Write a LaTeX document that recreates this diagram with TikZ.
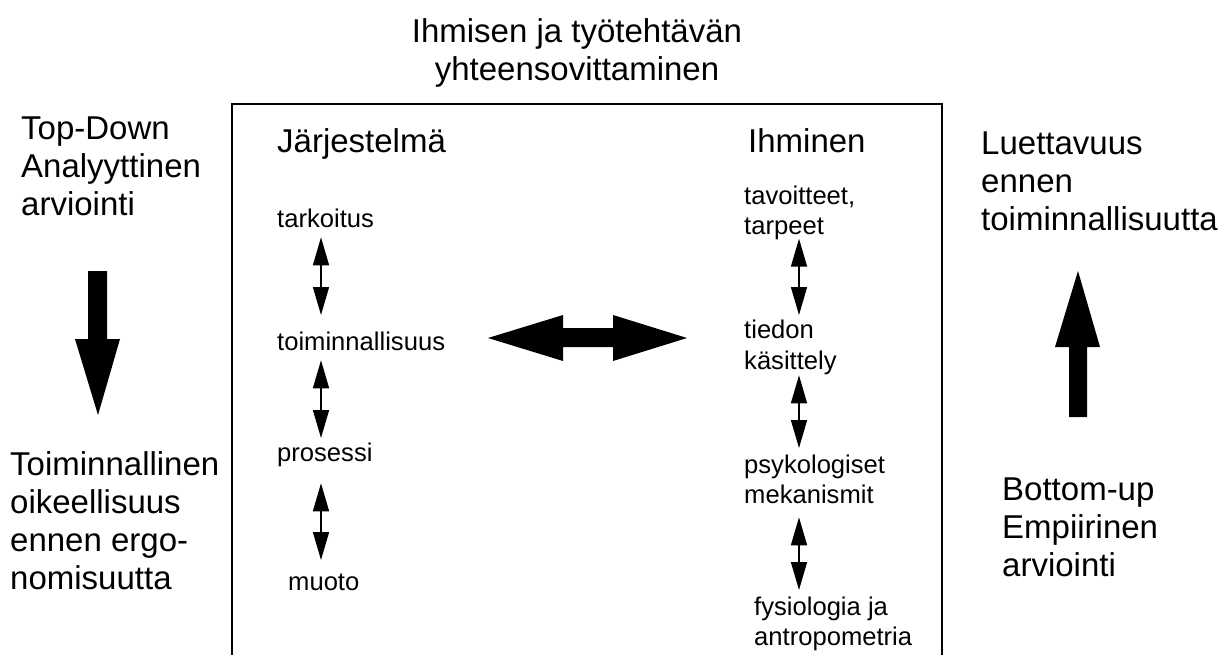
\documentclass[tikz,border=0pt]{standalone}
\usepackage{fontspec}
\setmainfont{Liberation Sans}
\usetikzlibrary{arrows.meta}

\tikzset{
  bigtxt/.style={font=\fontsize{33}{38}\selectfont, anchor=base west, inner sep=0pt},
  smalltxt/.style={font=\fontsize{25.6}{30}\selectfont, anchor=base west, inner sep=0pt,
                   text height=19pt, text depth=6.5pt},
  dbl/.style={line width=1.5pt,
              {Triangle[length=28pt,width=16pt]}-{Triangle[length=28pt,width=16pt]}},
  fatarrow/.style={fill=black}
}

\begin{document}
\begin{tikzpicture}[x=1pt,y=-1pt]
\useasboundingbox (0,0) rectangle (1226,655);

% title
\node[bigtxt, anchor=base] (t1) at (577,43) {Ihmisen ja työtehtävän};
\node[bigtxt, anchor=base] (t2) at (577,81) {yhteensovittaminen};

% frame, open at the bottom
\draw[line width=1.5pt] (232,660) -- (232,104) -- (942,104) -- (942,660);

% left side
\node[bigtxt] (l1) at (21,140) {Top-Down};
\node[bigtxt] (l2) at (21,178) {Analyyttinen};
\node[bigtxt] (l3) at (21,216) {arviointi};
\fill[fatarrow] (88,271) -- (107,271) -- (107,339) -- (120,339) -- (98,415)
               -- (75,339) -- (88,339) -- cycle;
\node[bigtxt] (l4) at (10,475) {Toiminnallinen};
\node[bigtxt] (l5) at (10,513) {oikeellisuus};
\node[bigtxt] (l6) at (10,551) {ennen ergo-};
\node[bigtxt] (l7) at (10,589) {nomisuutta};

% right side
\node[bigtxt] (r1) at (981,155) {Luettavuus};
\node[bigtxt] (r2) at (981,193) {ennen};
\node[bigtxt] (r3) at (981,231) {toiminnallisuutta};
\fill[fatarrow] (1069,417) -- (1087,417) -- (1087,347) -- (1100,347) -- (1078,271)
               -- (1055,347) -- (1069,347) -- cycle;
\node[bigtxt] (r4) at (1002,500) {Bottom-up};
\node[bigtxt] (r5) at (1002,538) {Empiirinen};
\node[bigtxt] (r6) at (1002,576) {arviointi};

% system column
\node[bigtxt] (sys) at (277,153) {Järjestelmä};
\node[smalltxt] (tark) at (277,228) {tarkoitus};
\node[smalltxt] (toim) at (277,350) {toiminnallisuus};
\node[smalltxt] (pros) at (277,461) {prosessi};
\node[smalltxt] (muot) at (288,590) {muoto};
\coordinate (ax) at (321,0);
\draw[dbl, shorten <=2.6pt, shorten >=15.8pt] (tark.south -| ax) -- (toim.north -| ax);
\draw[dbl, shorten <=3.6pt, shorten >=3.8pt] (toim.south -| ax) -- (pros.north -| ax);
\draw[dbl, shorten <=15.6pt, shorten >=10.8pt] (pros.south -| ax) -- (muot.north -| ax);

% human column
\node[bigtxt] (hum) at (748,153) {Ihminen};
\node[smalltxt] (tav1) at (744,205) {tavoitteet,};
\node[smalltxt] (tav2) at (744,234) {tarpeet};
\node[smalltxt] (tie1) at (744,338) {tiedon};
\node[smalltxt] (tie2) at (744,369) {käsittely};
\node[smalltxt] (psy1) at (744,473) {psykologiset};
\node[smalltxt] (psy2) at (744,503) {mekanismit};
\node[smalltxt] (fys1) at (754,615) {fysiologia ja};
\node[smalltxt] (fys2) at (754,645) {antropometria};
\coordinate (bx) at (799,0);
\draw[dbl, shorten <=-2pt, shorten >=3.8pt] (tav2.south -| bx) -- (tie1.north -| bx);
\draw[dbl, shorten <=-0.4pt, shorten >=5.8pt] (tie2.south -| bx) -- (psy1.north -| bx);
\draw[dbl, shorten <=7.6pt, shorten >=5.8pt] (psy2.south -| bx) -- (fys1.north -| bx);

% link between the two columns
\fill[fatarrow] (488,338) -- (563,315) -- (563,328) -- (613,328) -- (613,315)
               -- (687,338) -- (613,361) -- (613,347) -- (563,347) -- (563,361) -- cycle;
\end{tikzpicture}
\end{document}
